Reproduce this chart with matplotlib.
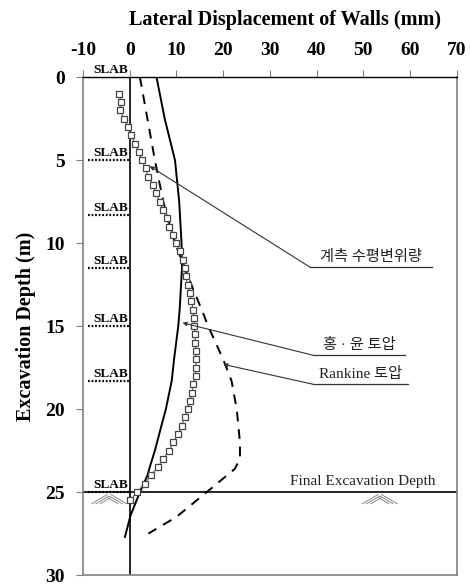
import numpy as np
import matplotlib
matplotlib.use("Agg")
import matplotlib.pyplot as plt

plt.rcParams['font.family'] = ['Liberation Serif', 'Noto Sans CJK KR']
plt.rcParams['axes.unicode_minus'] = False

# 계측 수평변위량 (measured)
meas_depth = np.arange(1.0, 25.51, 0.5)
meas_disp = [-2.2, -1.9, -2.1, -1.2, -0.4, 0.3, 1.2, 1.9, 2.6, 3.4,
             4.0, 5.0, 5.7, 6.4, 7.1, 7.9, 8.5, 9.3, 10.0, 10.7,
             11.5, 11.8, 12.0, 12.4, 13.0, 13.2, 13.6, 13.7, 13.8, 14.0,
             14.0, 14.1, 14.2, 14.2, 14.1, 13.6, 13.4, 12.9, 12.4, 11.8,
             11.1, 10.4, 9.3, 8.5, 7.2, 6.0, 4.5, 3.2, 1.6, 0.05]

# 홍·윤 토압 (solid)
hy_depth = [0, 2.5, 5, 7.5, 10, 11.5, 14, 15, 17, 18.3, 20, 21, 22.5, 23.5, 24, 25, 26.4, 27.7]
hy_disp = [5.75, 7.5, 9.7, 10.6, 11.1, 11.2, 10.7, 10.4, 9.5, 9.0, 7.75, 6.8, 5.4, 4.3, 3.8, 2.2, 0.2, -1.0]

# Rankine 토압 (dashed)
rk_depth = [0, 2.5, 5, 7.5, 10, 12.5, 14, 15, 17, 18.3, 20, 22, 23, 23.6, 25, 26.5, 27.5]
rk_disp = [2.2, 3.8, 5.4, 7.2, 9.7, 13.2, 15.4, 16.8, 20.0, 21.8, 22.9, 23.6, 23.6, 22.5, 16.5, 10.0, 4.0]

slab_depths = [0, 5.0, 8.3, 11.5, 15.0, 18.3, 25.0]
final_depth = 25.0

fig = plt.figure(figsize=(4.71, 5.85), dpi=100)
ax = fig.add_axes([0.176, 0.017, 0.794, 0.851])

ax.set_xlim(-10, 70)
ax.set_ylim(30, 0)
ax.xaxis.tick_top()
ax.xaxis.set_label_position('top')
ax.set_xticks(range(-10, 71, 10))
ax.set_yticks(range(0, 31, 5))
ax.tick_params(axis='both', direction='out', length=5, color='#808080',
               labelsize=14, pad=4)
for lab in ax.get_xticklabels() + ax.get_yticklabels():
    lab.set_fontweight('bold')
ax.tick_params(axis='x', pad=8)
ax.tick_params(axis='y', pad=8)
for s in ['left', 'right', 'bottom']:
    ax.spines[s].set_color('#808080')
    ax.spines[s].set_linewidth(1.2)
ax.spines['top'].set_color('black')
ax.spines['top'].set_linewidth(1.0)

ax.set_xlabel('Lateral Displacement of Walls (mm)', fontsize=14.5, fontweight='bold')
ax.xaxis.set_label_coords(0.54, 1.105)
ax.set_ylabel('Excavation Depth (m)', fontsize=14.5, fontweight='bold')
ax.yaxis.set_label_coords(-0.126, 0.5)

# wall line and final excavation line
ax.axvline(0, color='black', lw=1.2)
ax.axhline(final_depth, color='black', lw=1.2)
ax.text(49.9, final_depth - 0.25, 'Final Excavation Depth', fontsize=11, ha='center', va='bottom',
        color='#222222')

# slabs
for d in slab_depths:
    ax.plot([-9, 0], [d, d], color='black', lw=1.6, ls=(0, (0.8, 0.8)))
    ax.text(-0.3, d - 0.05, 'SLAB', fontsize=9.5, fontweight='bold', ha='right', va='bottom')

# ground hatch symbols
def ground(xc, yc):
    for k in range(3):
        ax.plot([xc - 3.7 + k * 0.9, xc - 0.4 + k * 0.3], [yc + 0.7, yc + 0.15 + k * 0.1],
                color='#888888', lw=0.7)
        ax.plot([xc + 0.4 - k * 0.3, xc + 3.7 - k * 0.9], [yc + 0.15 + k * 0.1, yc + 0.7],
                color='#888888', lw=0.7)
ground(-4.4, final_depth)
ground(53.5, final_depth)

# series
ax.plot(hy_disp, hy_depth, color='black', lw=1.4)
ax.plot(rk_disp, rk_depth, color='black', lw=1.4, ls=(0, (5, 4)))
ax.plot(meas_disp, meas_depth, color='#555555', lw=0.7, marker='s', ms=3.8,
        mfc='white', mec='#444444', mew=0.9)

# annotations with underline
def label(text, tip, x0, x1, y):
    ax.annotate('', xy=tip, xytext=(x0, y),
                arrowprops=dict(arrowstyle='-|>', color='#333333', lw=0.8,
                                mutation_scale=6, shrinkA=0, shrinkB=0))
    ax.plot([x0, x1], [y, y], color='#333333', lw=0.9)
    ax.text((x0 + x1) / 2, y - 0.2, text, fontsize=11, ha='center', va='bottom', color='#222222')

label('계측 수평변위량', (4.3, 5.36), 38.6, 64.7, 11.45)
label('홍 · 윤 토압', (11.3, 14.8), 39.2, 58.9, 16.75)
label('Rankine 토압', (20.0, 17.3), 39.2, 59.5, 18.5)

fig.savefig('out.png', dpi=100)
